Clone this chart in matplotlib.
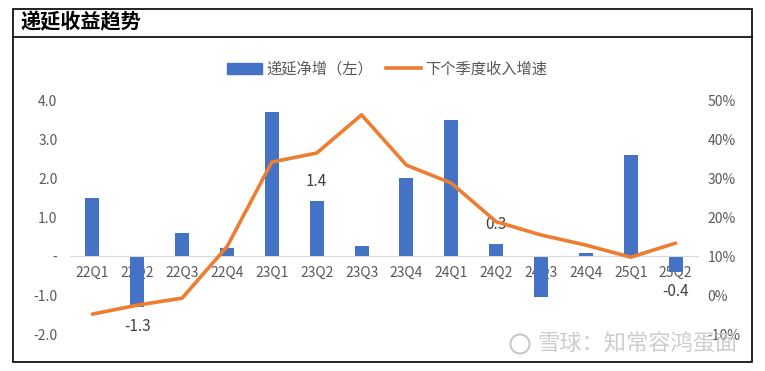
import matplotlib
matplotlib.use('Agg')
import matplotlib.pyplot as plt
from matplotlib.patches import Rectangle, Ellipse
from matplotlib.lines import Line2D
from matplotlib.ticker import FuncFormatter

plt.rcParams['font.family'] = ['Noto Sans CJK SC', 'DejaVu Sans']

quarters = ['22Q1', '22Q2', '22Q3', '22Q4', '23Q1', '23Q2', '23Q3',
            '23Q4', '24Q1', '24Q2', '24Q3', '24Q4', '25Q1', '25Q2']
deferred_net = [1.5, -1.3, 0.6, 0.2, 3.7, 1.4, 0.25, 2.0, 3.5, 0.3, -1.05, 0.08, 2.6, -0.4]
next_growth = [-0.049, -0.026, -0.008, 0.124, 0.341, 0.364, 0.462, 0.333, 0.287, 0.188,
               0.154, 0.128, 0.097, 0.133]
labeled = ['22Q2', '23Q2', '24Q2', '25Q2']

blue = '#4472C4'
orange = '#ED7D31'
grey = '#595959'

fig = plt.figure(figsize=(7.65, 3.71), dpi=100)
ax = fig.add_axes([0.0915, 0.0997, 0.8209, 0.6307])
ax2 = ax.twinx()

x = list(range(len(quarters)))
ax.bar(x, deferred_net, width=0.31, color=blue, zorder=2)
ax.set_xlim(-0.5, len(quarters) - 0.5)
ax.set_ylim(-2, 4)
ax.set_yticks([-2, -1, 0, 1, 2, 3, 4])
ax.yaxis.set_major_formatter(FuncFormatter(lambda v, p: '-' if v == 0 else f'{v:.1f}'))
ax.set_xticks(x)
ax.set_xticklabels(quarters)

for s in ['top', 'left', 'right']:
    ax.spines[s].set_visible(False)
    ax2.spines[s].set_visible(False)
ax2.spines['bottom'].set_visible(False)
ax.spines['bottom'].set_position(('data', 0))
ax.spines['bottom'].set_color('#D9D9D9')
ax.tick_params(axis='x', length=0, pad=7, labelsize=10, labelcolor=grey)
ax.tick_params(axis='y', length=0, pad=9, labelsize=10, labelcolor=grey)

for q, v in zip(quarters, deferred_net):
    if q in labeled:
        i = quarters.index(q)
        off = 20 if v > 0 else -20
        ax.annotate(f'{v:.1f}', (i, v), xytext=(0, off), textcoords='offset pixels',
                    ha='center', va='center', fontsize=11, color='#404040')

ax2.plot(x, next_growth, color=orange, linewidth=2.6, solid_capstyle='round', zorder=3)
ax2.set_ylim(-0.1, 0.5)
ax2.set_yticks([-0.1, 0, 0.1, 0.2, 0.3, 0.4, 0.5])
ax2.yaxis.set_major_formatter(FuncFormatter(lambda v, p: f'{v * 100:.0f}%'))
ax2.tick_params(axis='y', length=0, pad=7, labelsize=10, labelcolor=grey)

# legend
handles = [Rectangle((0, 0), 1, 1, color=blue),
           Line2D([0], [0], color=orange, linewidth=2.6)]
fig.legend(handles, ['递延净增（左）', '下个季度收入增速'], loc='center',
           bbox_to_anchor=(0.506, 0.814), ncol=2, frameon=False, fontsize=11,
           handlelength=2.3, handletextpad=0.3, columnspacing=0.8, labelcolor=grey)

# outer frame and title bar
fig.add_artist(Rectangle((13 / 765, 1 - 362 / 371), 739 / 765, 353 / 371,
                         transform=fig.transFigure, fill=False, edgecolor='black', linewidth=1.2))
fig.add_artist(Line2D([13 / 765, 752 / 765], [1 - 37 / 371, 1 - 37 / 371],
                      transform=fig.transFigure, color='black', linewidth=1.2))
fig.text(20 / 765, 1 - 22 / 371, '递延收益趋势', fontsize=14.5, fontweight='bold',
         ha='left', va='center', color='black')

# watermark
fig.add_artist(Ellipse((520 / 765, 1 - 344 / 371), 19 / 765, 19 / 371,
                       transform=fig.transFigure, fill=False, edgecolor='#C8C8C8', linewidth=1.5))
fig.text(537 / 765, 1 - 344 / 371, '雪球：知常容鸿蛋面', fontsize=16, color='#C8C8C8',
         ha='left', va='center', alpha=0.9)

fig.savefig('out.png', dpi=100)
